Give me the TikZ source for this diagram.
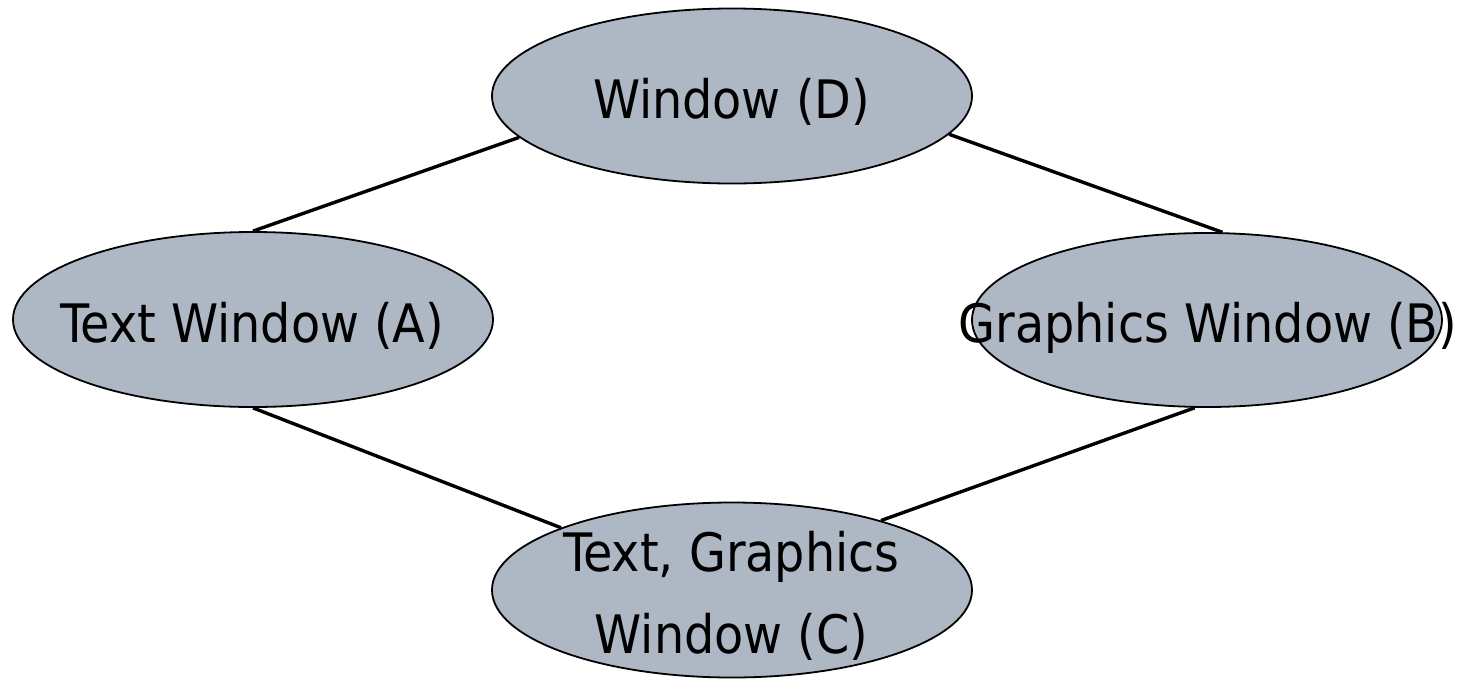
\documentclass[tikz,border=0pt]{standalone}
\usepackage{fontspec}
\setmainfont{DejaVu Sans Condensed}
\usetikzlibrary{shapes.geometric}
\definecolor{ellfill}{RGB}{174,183,196}
\tikzset{
  ell/.style={ellipse, draw=black, line width=1.8pt, fill=ellfill, inner sep=0pt, minimum width=480pt, minimum height=175pt},
  ellB/.style={ell, minimum width=470pt, minimum height=174pt},
  lbl/.style={font=\fontsize{53}{82}\selectfont, inner sep=0pt, text=black},
  conn/.style={draw=black, line width=3.4pt}
}
\begin{document}
\begin{tikzpicture}[x=1pt,y=-1pt]
\useasboundingbox (0,0) rectangle (1460,678);
\node[ell] (D) at (732,96) {};
\node[ell] (A) at (253,319.5) {};
\node[ellB] (B) at (1207,320) {};
\node[ell] (C) at (732,590) {};
\draw[conn] (A.north) -- (D.191);
\draw[conn] (B.80) -- (D.350);
\draw[conn] (A.south) -- (C.160);
\draw[conn] (B.262) -- (C.25);
\node[lbl, anchor=base] (tD) at (731.5,118) {Window (D)};
\node[lbl, anchor=base] (tA) at (252.5,342) {Text Window (A)};
\node[lbl, anchor=base] (tB) at (1208,342) {Graphics Window (B)};
\node[lbl, anchor=center, align=center] (tC) at (731.5,596) {Text, Graphics\\Window (C)};
\end{tikzpicture}
\end{document}
